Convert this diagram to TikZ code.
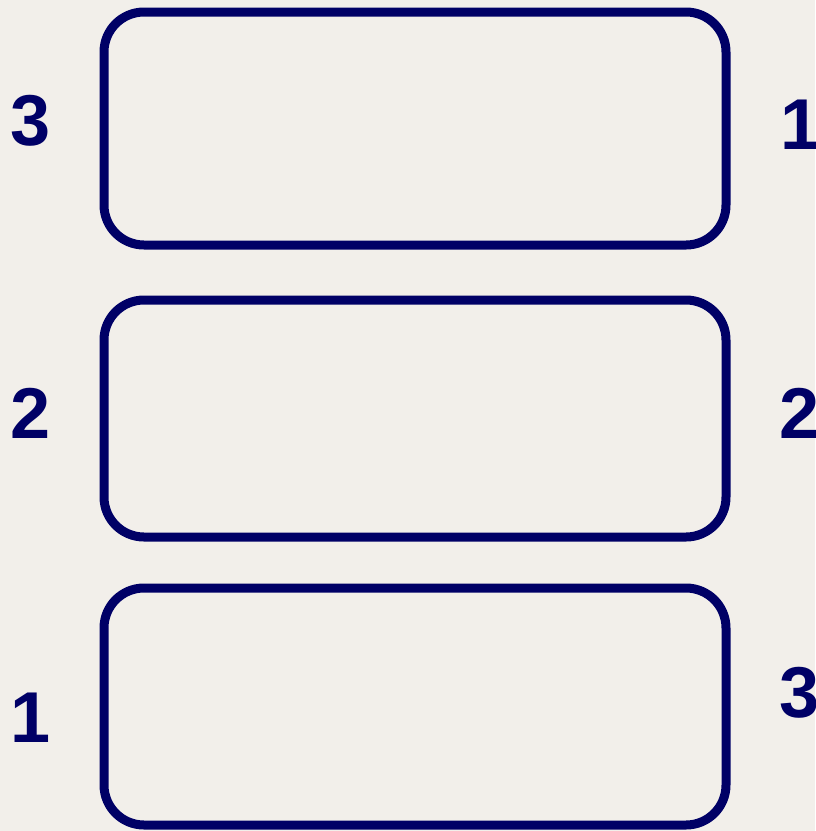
\documentclass[tikz,border=0pt]{standalone}
\usepackage{fontspec}
\setmainfont{Liberation Sans}
\definecolor{navy}{HTML}{000066}
\definecolor{paper}{HTML}{F2EFEA}
\begin{document}
\begin{tikzpicture}[x=1pt,y=-1pt,
  panel/.style={draw=navy,line width=9pt,rounded corners=40pt},
  num/.style={text=navy,font=\fontsize{72}{72}\selectfont\bfseries,inner sep=0pt}]
\fill[paper] (0,0) rectangle (815,831);
\useasboundingbox (0,0) rectangle (815,831);
\draw[panel] (104,12) rectangle (726,245);
\draw[panel] (104,300) rectangle (726,537);
\draw[panel] (104,588) rectangle (726,825);
\node[num] (l1) at (31,121) {3};
\node[num] (r1) at (801,125) {1};
\node[num] (l2) at (31,413) {2};
\node[num] (r2) at (800,413) {2};
\node[num] (l3) at (31,718) {1};
\node[num] (r3) at (800,693) {3};
\end{tikzpicture}
\end{document}
